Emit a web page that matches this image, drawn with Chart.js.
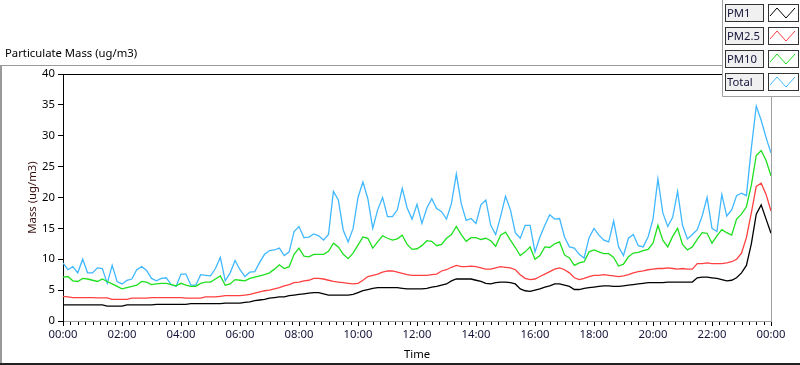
<!DOCTYPE html>
<html>
<head>
<meta charset="utf-8">
<title>Particulate Mass</title>
<script src="https://cdn.jsdelivr.net/npm/chart.js@4.4.1/dist/chart.umd.min.js"></script>
<style>
    html, body { margin: 0; padding: 0; background: #fff; }
    #wrap { width: 800px; height: 365px; }
</style>
</head>
<body>
<div id="wrap"><canvas id="pmChart" width="800" height="365"></canvas></div>
<script>
// samples every 10 minutes, 00:00 .. 24:00 (one row per hour)
const sampleStep = 10;

const pm1 = [
    2.6, 2.6, 2.6, 2.6, 2.6, 2.6,
    2.6, 2.6, 2.6, 2.4, 2.4, 2.4,
    2.4, 2.6, 2.6, 2.6, 2.6, 2.6,
    2.6, 2.7, 2.7, 2.7, 2.7, 2.7,
    2.7, 2.7, 2.8, 2.8, 2.8, 2.8,
    2.8, 2.8, 2.8, 2.9, 2.9, 2.9,
    2.9, 3.0, 3.1, 3.3, 3.4, 3.5,
    3.7, 3.8, 3.9, 3.9, 4.1, 4.2,
    4.3, 4.4, 4.5, 4.6, 4.6, 4.4,
    4.2, 4.2, 4.2, 4.2, 4.2, 4.3,
    4.6, 4.9, 5.1, 5.3, 5.4, 5.4,
    5.4, 5.4, 5.4, 5.3, 5.2, 5.2,
    5.2, 5.2, 5.3, 5.5, 5.6, 5.8,
    6.0, 6.5, 6.8, 6.8, 6.8, 6.8,
    6.6, 6.4, 6.1, 6.0, 6.2, 6.3,
    6.3, 6.2, 6.0, 5.2, 4.9, 4.8,
    5.0, 5.2, 5.5, 5.7, 6.0, 6.0,
    5.8, 5.6, 5.1, 5.1, 5.3, 5.4,
    5.5, 5.6, 5.7, 5.7, 5.6, 5.6,
    5.7, 5.8, 5.9, 6.0, 6.1, 6.2,
    6.2, 6.2, 6.2, 6.3, 6.3, 6.3,
    6.3, 6.3, 6.3, 7.0, 7.1, 7.1,
    7.0, 6.9, 6.7, 6.5, 6.6, 7.0,
    7.8, 9.0, 12.5, 17.3, 18.8, 16.5,
    14.2
];

const pm25 = [
    4.0, 3.9, 3.8, 3.8, 3.8, 3.8,
    3.8, 3.75, 3.75, 3.75, 3.5, 3.5,
    3.5, 3.5, 3.7, 3.7, 3.7, 3.7,
    3.8, 3.8, 3.8, 3.8, 3.8, 3.8,
    3.8, 3.7, 3.7, 3.7, 3.7, 3.9,
    3.9, 3.9, 4.0, 4.1, 4.1, 4.1,
    4.1, 4.2, 4.3, 4.5, 4.7, 4.9,
    5.0, 5.2, 5.4, 5.7, 5.9, 6.2,
    6.3, 6.5, 6.6, 6.9, 6.9, 6.8,
    6.6, 6.4, 6.3, 6.2, 6.1, 6.0,
    6.1, 6.6, 7.2, 7.4, 7.6, 7.9,
    8.1, 8.1, 7.9, 7.7, 7.5, 7.4,
    7.4, 7.4, 7.4, 7.5, 7.6, 8.1,
    8.3, 8.7, 9.0, 8.8, 8.8, 8.9,
    8.8, 8.6, 8.4, 8.4, 8.6, 8.8,
    8.7, 8.6, 8.3, 7.5, 6.9, 6.7,
    6.8, 7.2, 7.6, 8.0, 8.4, 8.6,
    8.3, 7.8, 7.0, 6.7, 6.9, 7.2,
    7.4, 7.4, 7.5, 7.4, 7.3, 7.2,
    7.3, 7.5, 7.8, 8.0, 8.1, 8.3,
    8.4, 8.5, 8.5, 8.6, 8.5, 8.4,
    8.5, 8.4, 8.4, 9.3, 9.3, 9.4,
    9.3, 9.3, 9.3, 9.4, 9.6, 10.0,
    11.0, 13.5, 17.5, 21.8, 22.3, 20.5,
    17.8
];

const pm10 = [
    7.1, 7.2, 6.5, 6.4, 6.9, 6.8,
    6.6, 6.4, 6.8, 6.4, 6.0, 5.6,
    5.2, 5.4, 5.6, 5.8, 6.4, 6.3,
    5.9, 6.0, 6.1, 6.1, 5.9, 5.7,
    6.1, 5.8, 5.6, 5.6, 6.1, 6.3,
    6.3, 6.8, 7.3, 5.8, 6.0, 6.7,
    6.6, 6.5, 6.9, 7.1, 7.3, 7.5,
    7.8, 8.4, 9.1, 8.5, 8.8, 10.8,
    11.8, 10.5, 10.4, 10.8, 10.8, 10.8,
    11.3, 12.6, 12.0, 10.8, 10.1, 11.0,
    12.3, 13.6, 13.4, 11.8, 12.8, 13.8,
    13.4, 13.1, 13.3, 13.9, 12.4, 11.6,
    11.7, 12.2, 13.0, 12.9, 12.2, 12.4,
    13.4, 14.0, 15.3, 14.0, 12.9, 13.5,
    13.5, 13.2, 13.4, 13.0, 12.1, 13.9,
    14.4, 13.1, 11.9, 10.6, 11.2, 12.0,
    10.0, 10.6, 12.0, 11.9, 12.5, 12.8,
    10.7, 10.2, 9.0, 9.4, 9.6, 11.2,
    11.5, 11.2, 10.9, 10.9, 10.3, 8.9,
    9.2, 10.4, 11.0, 11.1, 11.4, 11.6,
    12.6, 15.5, 13.1, 12.0, 13.7, 15.0,
    12.4, 11.5, 12.0, 13.2, 14.3, 14.2,
    12.6, 13.8, 14.8, 14.3, 13.9, 16.5,
    17.3, 18.5, 22.0, 26.8, 27.6, 26.0,
    23.5
];

const total = [
    9.4, 8.3, 8.8, 7.8, 10.0, 7.8,
    7.8, 8.6, 8.5, 6.1, 9.0, 6.4,
    6.0, 6.6, 6.8, 8.3, 8.8, 8.2,
    6.9, 6.5, 6.9, 7.0, 5.9, 5.6,
    7.6, 7.6, 5.8, 5.8, 7.5, 7.4,
    7.3, 8.5, 10.3, 6.5, 7.8, 9.8,
    8.3, 7.2, 7.9, 8.0, 9.5, 10.8,
    11.4, 11.5, 11.8, 10.6, 11.2, 14.5,
    15.3, 13.5, 13.6, 14.1, 13.8, 13.1,
    14.0, 21.0, 19.6, 14.7, 12.8, 15.0,
    20.0, 22.5, 19.8, 15.0, 18.0, 20.0,
    16.9, 16.9, 18.0, 21.5, 18.3, 16.5,
    18.9, 15.8, 18.3, 19.8, 18.2, 17.7,
    16.5, 19.0, 23.8, 19.0, 16.3, 16.6,
    15.8, 18.8, 19.6, 15.5, 14.0, 16.9,
    20.2, 18.0, 14.3, 13.4, 15.5, 15.5,
    11.2, 13.6, 15.5, 17.2, 16.5, 16.6,
    13.6, 12.0, 11.8, 10.8, 10.2, 13.5,
    15.0, 13.9, 13.1, 12.8, 16.2, 12.0,
    10.6, 13.4, 14.0, 12.2, 12.0, 13.6,
    16.5, 23.0, 17.5, 15.3, 16.8, 21.0,
    15.5, 13.3, 14.0, 14.8, 17.0, 20.0,
    15.0, 14.5, 20.5, 17.0, 18.0, 20.3,
    20.7, 20.3, 28.0, 34.8, 32.5, 29.7,
    27.2
];

const seriesNames = ['PM1', 'PM2.5', 'PM10', 'Total'];
const seriesColors = ['#000000', '#ff4040', '#1ee01e', '#40b8ff'];

// x in minutes since midnight
const minutes = pm1.map((_, i) => i * sampleStep);
const toPoints = arr => arr.map((v, i) => ({ x: minutes[i], y: v }));

const baseFont = { family: "'Noto Sans', 'Open Sans', sans-serif", size: 11.3 };

function fmtTime(v) {
    const h = Math.floor(v / 60) % 24;
    const m = v % 60;
    return String(h).padStart(2, '0') + ':' + String(m).padStart(2, '0');
}

// panel frame, plot border lines, minor ticks, legend and graph title
const labviewFrame = {
    id: 'labviewFrame',
    beforeDraw(chart) {
        const ctx = chart.ctx;
        ctx.save();
        ctx.fillStyle = '#ffffff';
        ctx.fillRect(0, 0, chart.width, chart.height);
        ctx.restore();
    },
    afterDraw(chart) {
        const { ctx, chartArea, scales } = chart;
        const x = scales.x;
        ctx.save();

        // plot top / right border
        ctx.lineWidth = 1;
        ctx.strokeStyle = '#000';
        ctx.beginPath();
        ctx.moveTo(chartArea.left, chartArea.top + 0.5);
        ctx.lineTo(chartArea.right, chartArea.top + 0.5);
        ctx.stroke();
        ctx.strokeStyle = '#a0a0a0';
        ctx.beginPath();
        ctx.moveTo(chartArea.right + 0.5, chartArea.top);
        ctx.lineTo(chartArea.right + 0.5, chartArea.bottom + 1);
        ctx.stroke();

        // minor time ticks
        ctx.strokeStyle = '#000';
        ctx.beginPath();
        for (let m = 0; m <= 1440; m += 15) {
            if (m % 120 === 0) continue;
            const px = Math.round(x.getPixelForValue(m)) + 0.5;
            ctx.moveTo(px, chartArea.bottom + 1);
            ctx.lineTo(px, chartArea.bottom + 4);
        }
        ctx.stroke();

        // panel frame
        ctx.strokeStyle = '#9a9a9a';
        ctx.beginPath();
        ctx.moveTo(0, 65.5);
        ctx.lineTo(722, 65.5);
        ctx.stroke();
        ctx.lineWidth = 2;
        ctx.beginPath();
        ctx.moveTo(1, 65);
        ctx.lineTo(1, 363);
        ctx.stroke();
        ctx.strokeStyle = '#222';
        ctx.beginPath();
        ctx.moveTo(0, 364);
        ctx.lineTo(800, 364);
        ctx.stroke();

        // graph title
        ctx.fillStyle = '#000';
        ctx.font = `${baseFont.size}px ${baseFont.family}`;
        ctx.textBaseline = 'middle';
        ctx.textAlign = 'left';
        ctx.fillText('Particulate Mass (ug/m3)', 5, 54);

        // legend
        ctx.fillStyle = '#ffffff';
        ctx.fillRect(722, 0, 78, 97);
        ctx.lineWidth = 1;
        ctx.strokeStyle = '#a0a0a0';
        ctx.beginPath();
        ctx.moveTo(722.5, 0);
        ctx.lineTo(722.5, 96.5);
        ctx.lineTo(800, 96.5);
        ctx.stroke();

        seriesNames.forEach((name, i) => {
            const y0 = 4 + i * 23;
            ctx.fillStyle = '#f0f0f0';
            ctx.fillRect(725, y0, 38, 17);
            ctx.strokeStyle = '#333';
            ctx.strokeRect(725.5, y0 + 0.5, 38, 17);
            ctx.fillStyle = '#fff';
            ctx.fillRect(768, y0, 30, 17);
            ctx.strokeRect(768.5, y0 + 0.5, 30, 17);

            ctx.fillStyle = '#14143a';
            ctx.fillText(name, 727, y0 + 9.5);

            ctx.strokeStyle = seriesColors[i];
            ctx.beginPath();
            ctx.moveTo(770, y0 + 12);
            ctx.lineTo(777, y0 + 4);
            ctx.lineTo(786, y0 + 14);
            ctx.lineTo(795, y0 + 4);
            ctx.stroke();
        });

        ctx.restore();
    }
};

const pmChart = new Chart(document.getElementById('pmChart'), {
    type: 'line',
    data: {
        datasets: [pm1, pm25, pm10, total].map((arr, i) => ({
            label: seriesNames[i],
            data: toPoints(arr),
            borderColor: seriesColors[i],
            backgroundColor: seriesColors[i],
            borderWidth: 1.3,
            pointRadius: 0,
            tension: 0,
            fill: false
        }))
    },
    options: {
        responsive: false,
        animation: false,
        events: [],
        layout: { padding: { left: 0, top: 74, right: 29, bottom: 0 } },
        plugins: {
            legend: { display: false },
            tooltip: { enabled: false }
        },
        scales: {
            x: {
                type: 'linear',
                min: 0,
                max: 1440,
                afterFit: scale => { scale.height = 44; },
                border: { color: '#a0a0a0' },
                grid: { drawOnChartArea: false, tickLength: 5, tickColor: '#000' },
                ticks: {
                    stepSize: 120,
                    padding: 2,
                    maxRotation: 0,
                    autoSkip: false,
                    color: '#14143a',
                    font: baseFont,
                    callback: v => fmtTime(v)
                },
                title: {
                    display: true,
                    text: 'Time',
                    color: '#000',
                    font: baseFont,
                    padding: { top: 0, bottom: 3 }
                }
            },
            y: {
                min: 0,
                max: 40,
                afterFit: scale => { scale.width = 63; },
                border: { color: '#000' },
                grid: { drawOnChartArea: false, tickLength: 5, tickColor: '#000' },
                ticks: { stepSize: 5, padding: 3, color: '#000', font: baseFont },
                title: {
                    display: true,
                    text: 'Mass (ug/m3)',
                    color: '#3a1010',
                    font: baseFont,
                    padding: { top: 26, bottom: 0 }
                }
            }
        }
    },
    plugins: [labviewFrame]
});
</script>
</body>
</html>
